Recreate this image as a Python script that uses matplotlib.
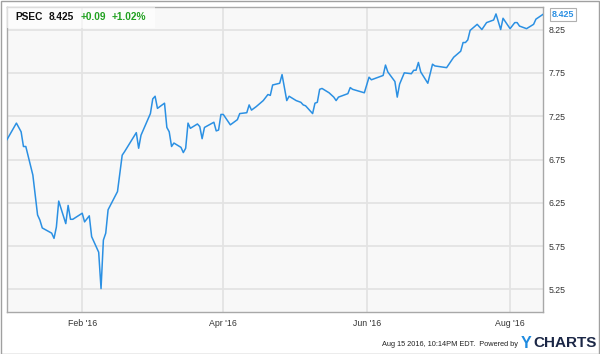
import matplotlib
matplotlib.use("Agg")
import matplotlib.pyplot as plt
import matplotlib.dates as mdates
import matplotlib.transforms as mtransforms
from matplotlib.patches import Rectangle
import pandas as pd

plt.rcParams['font.family'] = ['Liberation Sans', 'DejaVu Sans']

# PSEC closing prices (vertices only)
dates = [
    '2015-12-31', '2016-01-04', '2016-01-06', '2016-01-07', '2016-01-08', '2016-01-11',
    '2016-01-13', '2016-01-14', '2016-01-15', '2016-01-19', '2016-01-20', '2016-01-21',
    '2016-01-22', '2016-01-25', '2016-01-26', '2016-01-27', '2016-01-28', '2016-02-01',
    '2016-02-02', '2016-02-04', '2016-02-05', '2016-02-08', '2016-02-09', '2016-02-10',
    '2016-02-11', '2016-02-12', '2016-02-16', '2016-02-18', '2016-02-19', '2016-02-24',
    '2016-02-25', '2016-02-26', '2016-03-01', '2016-03-02', '2016-03-03', '2016-03-04',
    '2016-03-07', '2016-03-08', '2016-03-09', '2016-03-10', '2016-03-11', '2016-03-14',
    '2016-03-15', '2016-03-16', '2016-03-17', '2016-03-18', '2016-03-21', '2016-03-22',
    '2016-03-23', '2016-03-24', '2016-03-28', '2016-03-29', '2016-03-30', '2016-03-31',
    '2016-04-01', '2016-04-04', '2016-04-07', '2016-04-08', '2016-04-11', '2016-04-12',
    '2016-04-13', '2016-04-15', '2016-04-18', '2016-04-20', '2016-04-21', '2016-04-22',
    '2016-04-25', '2016-04-26', '2016-04-28', '2016-04-29', '2016-05-02', '2016-05-04',
    '2016-05-05', '2016-05-06', '2016-05-09', '2016-05-10', '2016-05-11', '2016-05-12',
    '2016-05-13', '2016-05-16', '2016-05-18', '2016-05-19', '2016-05-20', '2016-05-23',
    '2016-05-24', '2016-05-25', '2016-05-26', '2016-05-31', '2016-06-02', '2016-06-03',
    '2016-06-07', '2016-06-08', '2016-06-09', '2016-06-10', '2016-06-13', '2016-06-14',
    '2016-06-15', '2016-06-17', '2016-06-20', '2016-06-21', '2016-06-22', '2016-06-23',
    '2016-06-24', '2016-06-27', '2016-06-29', '2016-06-30', '2016-07-05', '2016-07-08',
    '2016-07-11', '2016-07-12', '2016-07-13', '2016-07-14', '2016-07-15', '2016-07-18',
    '2016-07-20', '2016-07-22', '2016-07-25', '2016-07-26', '2016-07-28', '2016-07-29',
    '2016-08-01', '2016-08-03', '2016-08-04', '2016-08-05', '2016-08-08', '2016-08-11',
    '2016-08-12', '2016-08-15',
]
prices = [
    6.98, 7.17, 7.07, 6.90, 6.90, 6.57,
    6.11, 6.05, 5.96, 5.90, 5.84, 5.97,
    6.27, 6.01, 6.22, 6.06, 6.06, 6.13,
    6.03, 6.10, 5.86, 5.68, 5.26, 5.82,
    5.90, 6.17, 6.38, 6.80, 6.84, 7.06,
    6.88, 7.03, 7.28, 7.45, 7.48, 7.34,
    7.40, 7.12, 7.07, 6.90, 6.94, 6.89,
    6.83, 6.88, 7.17, 7.11, 7.16, 7.13,
    6.99, 7.12, 7.18, 7.08, 7.09, 7.27,
    7.27, 7.15, 7.21, 7.28, 7.29, 7.38,
    7.32, 7.36, 7.43, 7.50, 7.49, 7.61,
    7.63, 7.73, 7.43, 7.48, 7.43, 7.41,
    7.38, 7.37, 7.28, 7.40, 7.41, 7.56,
    7.57, 7.52, 7.47, 7.43, 7.47, 7.50,
    7.51, 7.58, 7.56, 7.52, 7.70, 7.67,
    7.71, 7.72, 7.84, 7.76, 7.65, 7.47,
    7.62, 7.75, 7.74, 7.78, 7.78, 7.87,
    7.76, 7.63, 7.85, 7.83, 7.81, 7.93,
    8.00, 8.10, 8.10, 8.13, 8.24, 8.31,
    8.25, 8.33, 8.36, 8.43, 8.25, 8.38,
    8.26, 8.33, 8.33, 8.29, 8.26, 8.31,
    8.37, 8.425,
]
y_ticks = [5.25, 5.75, 6.25, 6.75, 7.25, 7.75, 8.25]
x_ticks = ['2016-02-01', '2016-04-01', '2016-06-01', '2016-08-01']
x_labels = ["Feb '16", "Apr '16", "Jun '16", "Aug '16"]

ticker_name = 'PSEC'
last_price = '8.425'
change = '+0.09'
change_pct = '+1.02%'
stamp = 'Aug 15 2016, 10:14PM EDT.  Powered by'

line_color = '#2b90e3'
green = '#21a121'
grid_color = '#e3e3e3'
W, H = 600, 354

x = pd.to_datetime(dates)

fig = plt.figure(figsize=(W / 100, H / 100), dpi=100)
ax = fig.add_axes([7 / W, 1 - 312 / H, 536 / W, 305 / H])
ax.set_facecolor('#f8f8f8')

ax.plot(x, prices, color=line_color, linewidth=1.1, zorder=3)

ax.set_xlim(x[0], x[-1])
ax.set_ylim(4.99, 8.51)

ax.set_yticks(y_ticks)
ax.set_yticklabels([f'{v:.2f}' for v in y_ticks])
ax.yaxis.tick_right()
ax.set_xticks(pd.to_datetime(x_ticks))
ax.set_xticklabels(x_labels)
ax.tick_params(axis='both', length=0, labelsize=6.3, colors='#333333')
ax.tick_params(axis='y', pad=4)
ax.tick_params(axis='x', pad=5)
ax.grid(True, color=grid_color, linewidth=1.3, zorder=0)
ax.set_axisbelow(True)
for s in ax.spines.values():
    s.set_color('#a8a8a8')
    s.set_linewidth(1.0)

# last value tag
ax.annotate(last_price, xy=(1, prices[-1]),
            xycoords=('axes fraction', 'data'),
            xytext=(6, 0), textcoords='offset points',
            ha='left', va='center', fontsize=6.5, color=line_color,
            fontweight='bold',
            bbox=dict(boxstyle='square,pad=0.2', fc='white', ec='#b0b0b0', lw=0.8),
            annotation_clip=False)

# header strip
ax.add_patch(Rectangle((0, 1 - 21 / 305), 148 / 536, 21 / 305, transform=ax.transAxes,
                       facecolor='white', alpha=0.6, edgecolor='none', zorder=4))


def px(xp, yp):
    return xp / W, 1 - yp / H


hdr_y = 16.5
fig.text(*px(15, hdr_y), ticker_name, fontsize=7.3, fontweight='bold', color='#111111', va='center')
fig.text(*px(49, hdr_y), last_price, fontsize=7.3, fontweight='bold', color='#111111', va='center')
fig.text(*px(81, hdr_y), change, fontsize=7.3, fontweight='bold', color=green, va='center')
fig.text(*px(112, hdr_y), change_pct, fontsize=7.3, fontweight='bold', color=green, va='center')

# footer
fig.text(*px(518, 344), stamp, fontsize=5.3, color='#222222', ha='right', va='center')
fig.text(*px(521, 343), 'Y', fontsize=11.5, fontweight='bold', color='#1e8be0', va='center')
fig.text(*px(533, 343), 'CHARTS', fontsize=11, fontweight='bold', color='#1b2746', va='center')

# outer frame
fig.add_artist(Rectangle((0.5 / W, 0.5 / H), 1 - 1.5 / W, 1 - 1.5 / H, transform=fig.transFigure,
                         fill=False, edgecolor='#a0a0a0', linewidth=1.0))

fig.savefig('out.png', dpi=100)
